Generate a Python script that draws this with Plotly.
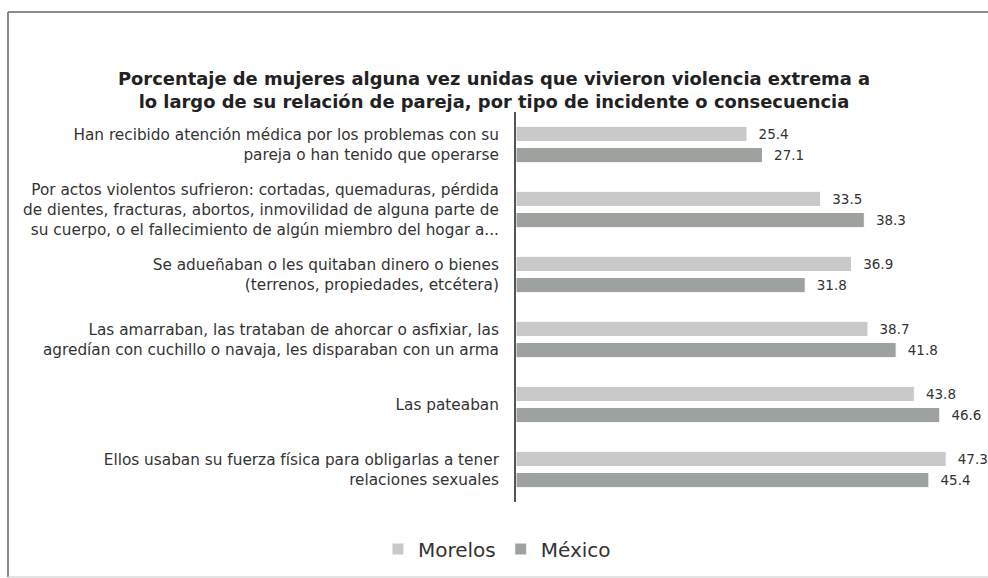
import plotly.graph_objects as go

categories = [
    "Han recibido atención médica por los problemas con su<br>pareja o han tenido que operarse",
    "Por actos violentos sufrieron: cortadas, quemaduras, pérdida<br>de dientes, fracturas, abortos, inmovilidad de alguna parte de<br>su cuerpo, o el fallecimiento de algún miembro del hogar a...",
    "Se adueñaban o les quitaban dinero o bienes<br>(terrenos, propiedades, etcétera)",
    "Las amarraban, las trataban de ahorcar o asfixiar, las<br>agredían con cuchillo o navaja, les disparaban con un arma",
    "Las pateaban",
    "Ellos usaban su fuerza física para obligarlas a tener<br>relaciones sexuales",
]
morelos = [25.4, 33.5, 36.9, 38.7, 43.8, 47.3]
mexico = [27.1, 38.3, 31.8, 41.8, 46.6, 45.4]

title = ("Porcentaje de mujeres alguna vez unidas que vivieron violencia extrema a<br>"
         "lo largo de su relación de pareja, por tipo de incidente o consecuencia")

FONT = "DejaVu Sans, Arial, sans-serif"

fig = go.Figure()
for name, vals, color in [("Morelos", morelos, "#c9c9c9"), ("México", mexico, "#9ea29f")]:
    fig.add_trace(go.Bar(
        name=name, y=categories, x=vals, orientation="h",
        marker=dict(color=color, line=dict(color="#ffffff", width=1)),
        text=vals, texttemplate="\u00a0\u00a0%{x:.1f}",
        textposition="outside", constraintext="none", cliponaxis=False,
        textfont=dict(family=FONT, size=13.5, color="#333333"),
    ))

fig.update_layout(
    width=988, height=578,
    margin=dict(l=516, r=0, t=112, b=76),
    paper_bgcolor="white", plot_bgcolor="white",
    barmode="group", bargap=0.35, bargroupgap=0.28,
    font=dict(family=FONT, color="#333333"),
    title=dict(text=title, x=0.5, xref="container", xanchor="center",
               y=1 - 85 / 578, yref="container", yanchor="middle",
               font=dict(family=FONT, size=17.9, color="#222222", weight="bold")),
    xaxis=dict(range=[0, 51.9], showticklabels=False, showgrid=False,
               zeroline=False, showline=False, ticks=""),
    yaxis=dict(autorange="reversed", showline=True, linecolor="#555555", linewidth=2,
               ticks="", ticklabelstandoff=12,
               tickfont=dict(family=FONT, size=15.3, color="#333333")),
    legend=dict(orientation="h", xref="container", x=0.503, xanchor="center",
                yref="container", y=1 - 549 / 578, yanchor="middle",
                font=dict(family=FONT, size=20, color="#333333"),
                traceorder="normal"),
    showlegend=True,
)

# frame around the chart (left, top and bottom edges)
px = lambda p: (p - 516) / 472
py = lambda p: (502 - p) / 390
fig.add_shape(type="line", xref="paper", yref="paper",
              x0=px(8), x1=px(8), y0=py(577), y1=py(12),
              line=dict(color="#8a8a8a", width=2), layer="below")
fig.add_shape(type="line", xref="paper", yref="paper",
              x0=px(8), x1=px(988), y0=py(12), y1=py(12),
              line=dict(color="#8a8a8a", width=2), layer="below")
fig.add_shape(type="line", xref="paper", yref="paper",
              x0=px(8), x1=px(988), y0=py(577), y1=py(577),
              line=dict(color="#c8c8c8", width=1), layer="below")

fig.write_html("out.html", config={"displayModeBar": False},
               post_script="document.body.style.margin='0';")
